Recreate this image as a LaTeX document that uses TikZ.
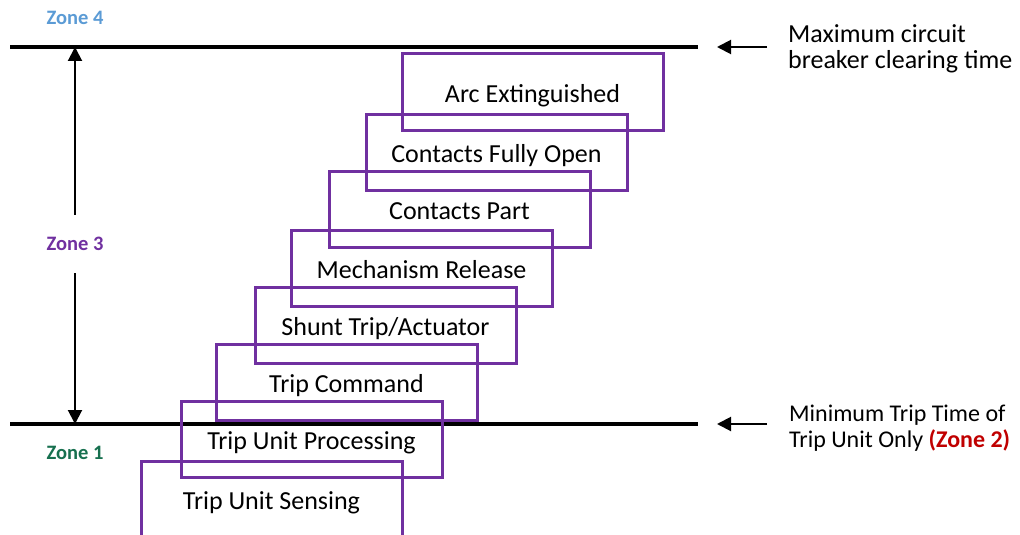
\documentclass[tikz,border=0pt]{standalone}
\usepackage{fontspec}
\setmainfont{Carlito}
\usetikzlibrary{arrows.meta}
\definecolor{zpurple}{HTML}{7030A0}
\definecolor{zblue}{HTML}{5B9BD5}
\definecolor{zgreen}{HTML}{17704F}
\definecolor{zred}{HTML}{C00000}
\tikzset{
  stagebox/.style={draw=zpurple, line width=3pt, minimum width=261pt, minimum height=76pt, inner sep=0pt, text height=24pt, text depth=4pt, font=\fontsize{26}{28}\selectfont},
  zonelabel/.style={font=\fontsize{20.5}{24}\selectfont\bfseries, inner sep=0pt},
  limitline/.style={line width=4pt},
  arr/.style={line width=2pt, -{Triangle[length=14pt,width=14pt]}},
  note/.style={align=left, anchor=west, inner sep=0pt}
}
\begin{document}
\begin{tikzpicture}[x=1pt,y=-1pt]
\useasboundingbox (0,0) rectangle (1020,535);
\clip (0,0) rectangle (1020,535);
% limit lines
\coordinate (t1) at (10,47);
\coordinate (t2) at (698,47);
\coordinate (b1) at (10,424);
\coordinate (b2) at (698,424);
\draw[limitline] (t1) -- (t2);
\draw[limitline] (b1) -- (b2);
% zone labels
\node[zonelabel, text=zblue] (z4) at (75,18) {Zone 4};
\node[zonelabel, text=zpurple, minimum height=58pt] (z3) at (75,244) {Zone 3};
\node[zonelabel, text=zgreen] (z1) at (75,453) {Zone 1};
% vertical double arrow
\coordinate (vt) at (75,47);
\coordinate (vb) at (75,424);
\draw[arr] (z3.north) -- (vt);
\draw[arr] (z3.south) -- (vb);
% stage boxes
\node[stagebox] (s1) at (532.5,92) {Arc Extinguished};
\node[stagebox] (s2) at (496.5,152) {Contacts Fully Open};
\node[stagebox] (s3) at (459.5,209) {Contacts Part};
\node[stagebox] (s4) at (421.5,268) {Mechanism Release};
\node[stagebox] (s5) at (385.5,325) {Shunt Trip/Actuator};
\node[stagebox] (s6) at (346.5,382) {Trip Command};
\node[stagebox] (s7) at (311.5,439) {Trip Unit Processing};
\node[stagebox] (s8) at (271.5,499) {Trip Unit Sensing};
% right notes
\coordinate (a1s) at (767,47);
\coordinate (a1e) at (717,47);
\coordinate (a2s) at (767,424);
\coordinate (a2e) at (717,424);
\draw[arr] (a1s) -- (a1e);
\draw[arr] (a2s) -- (a2e);
\node[note, font=\fontsize{26}{26}\selectfont] (n1) at (788,48.5) {Maximum circuit\\breaker clearing time};
\node[note, font=\fontsize{24}{26}\selectfont] (n2) at (789,428) {Minimum Trip Time of\\Trip Unit Only \textcolor{zred}{\bfseries (Zone 2)}};
\end{tikzpicture}
\end{document}
